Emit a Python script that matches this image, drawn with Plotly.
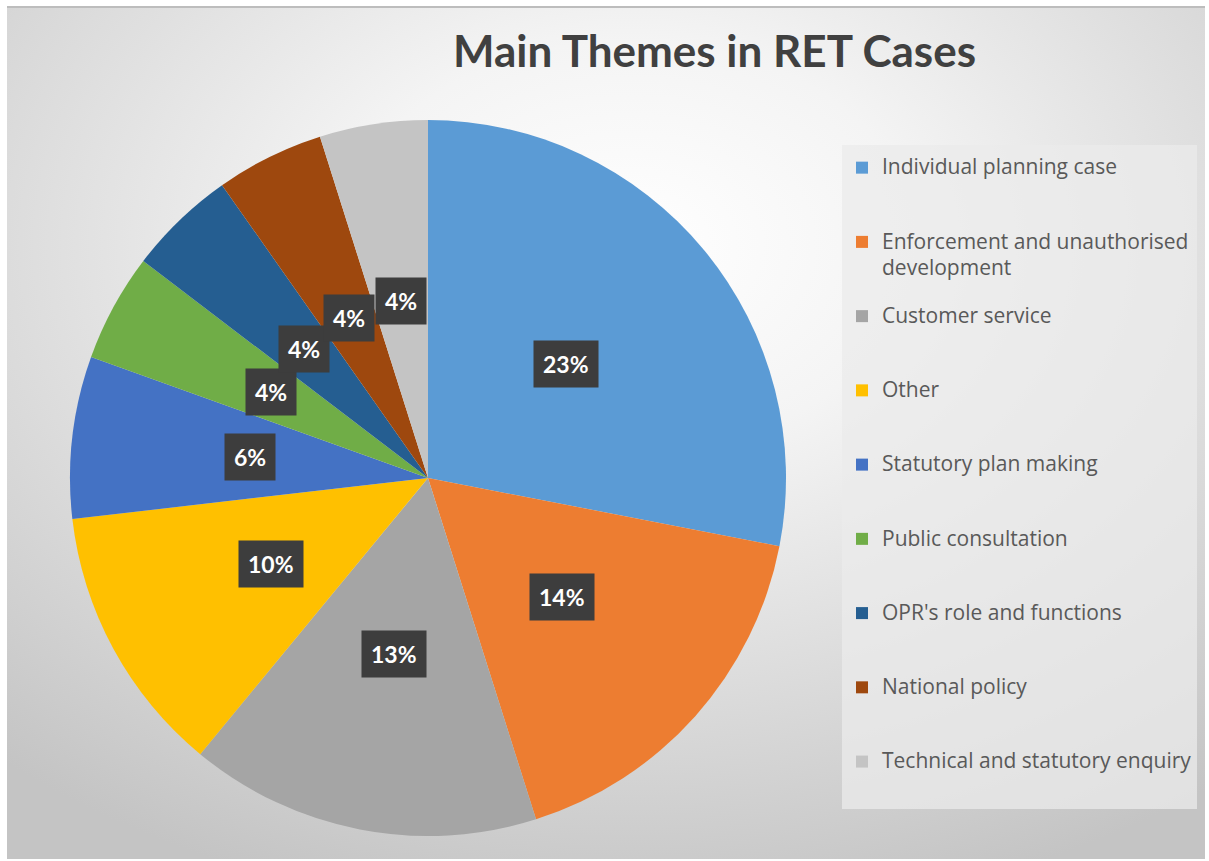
import base64
import math
import plotly.graph_objects as go

# ---- data ----
categories = [
    "Individual planning case",
    "Enforcement and unauthorised<br>development",
    "Customer service",
    "Other",
    "Statutory plan making",
    "Public consultation",
    "OPR's role and functions",
    "National policy",
    "Technical and statutory enquiry",
]
values = [23, 14, 13, 10, 6, 4, 4, 4, 4]
value_labels = ["23%", "14%", "13%", "10%", "6%", "4%", "4%", "4%", "4%"]
colors = ["#5B9BD5", "#ED7D31", "#A5A5A5", "#FFC000", "#4472C4",
          "#70AD47", "#255E91", "#9E480E", "#C4C4C4"]

W, H = 1209, 861
# pie placement (pixels)
cx_px, cy_px, R_px = 428, 478, 358
dom_x = [(cx_px - R_px) / W, (cx_px + R_px) / W]
dom_y = [1 - (cy_px + R_px) / H, 1 - (cy_px - R_px) / H]

# legend labels: small base font sets the line pitch, visible text is a larger span
BASE_FS = 6.85         # line pitch = 1.3 * BASE_FS
LINES_PER_ENTRY = 8    # entry pitch ~ 74 px
LINES_LAST_ENTRY = 5   # less bottom padding after the last entry
LINES_PER_TEXTLINE = 3 # ~27 px between wrapped lines
SPAN_STYLE = "font-size:21px;baseline-shift:-4px"
legend_names = []
for k, c in enumerate(categories):
    parts = c.split("<br>")
    pieces = []
    used = 0
    for i, ln in enumerate(parts):
        if i > 0:
            pieces.append("<br> " * (LINES_PER_TEXTLINE - 1) + "<br>")
            used += LINES_PER_TEXTLINE
        pieces.append('<span style="' + SPAN_STYLE + '">' + ln + "</span>")
    used += 1
    n_total = LINES_LAST_ENTRY if k == len(categories) - 1 else LINES_PER_ENTRY
    pieces.append("<br> " * (n_total - used))
    legend_names.append("".join(pieces))

fig = go.Figure()
fig.add_trace(go.Pie(
    labels=legend_names,
    values=values,
    sort=False,
    direction="clockwise",
    rotation=0,
    marker=dict(colors=colors, line=dict(width=0)),
    textinfo="none",
    hovertext=[c.replace("<br>", " ") for c in categories],
    hoverinfo="text",
    domain=dict(x=dom_x, y=dom_y),
))

# data labels as dark boxes at half radius on each slice's mid-angle
total = sum(values)
cum = 0
annotations = []
for v, lab in zip(values, value_labels):
    frac = (cum + v / 2) / total
    cum += v
    th = 2 * math.pi * frac
    x_px = cx_px + 0.5 * R_px * math.sin(th)
    y_px = cy_px - 0.5 * R_px * math.cos(th)
    annotations.append(dict(
        x=x_px / W, y=1 - y_px / H, xref="paper", yref="paper",
        xanchor="center", yanchor="middle",
        text="<b>" + lab + "</b>", showarrow=False,
        font=dict(family="Lato, Open Sans, sans-serif", size=23, color="white"),
        bgcolor="#3d3d3d", borderpad=9,
    ))

annotations.append(dict(
    x=714 / W, y=1 - 50 / H, xref="paper", yref="paper",
    xanchor="center", yanchor="middle",
    text="<b>Main Themes in RET Cases</b>", showarrow=False,
    font=dict(family="Lato, Open Sans, sans-serif", size=44, color="#404040"),
))

svg = (
    '<svg xmlns="http://www.w3.org/2000/svg" width="1200" height="850" preserveAspectRatio="none">'
    '<defs><radialGradient id="g" cx="52%" cy="28%" r="80%">'
    '<stop offset="0" stop-color="#ffffff"/>'
    '<stop offset="0.3" stop-color="#f4f4f4"/>'
    '<stop offset="1" stop-color="#c4c4c4"/>'
    '</radialGradient></defs>'
    '<rect width="1200" height="850" fill="url(#g)"/></svg>'
)
svg_uri = "data:image/svg+xml;base64," + base64.b64encode(svg.encode()).decode()

fig.update_layout(
    width=W, height=H,
    margin=dict(l=0, r=0, t=0, b=0),
    paper_bgcolor="white",
    showlegend=True,
    legend=dict(
        x=842 / W, y=1 - 145 / H, xanchor="left", yanchor="top",
        bgcolor="rgba(235,235,235,0.75)",
        font=dict(family="Open Sans, sans-serif", size=BASE_FS, color="#595959"),
        title=dict(text=" ", font=dict(size=9)),
        valign="top",
        itemwidth=30,
        traceorder="normal",
    ),
    annotations=annotations,
    images=[dict(
        source=svg_uri, xref="paper", yref="paper",
        x=7 / W, y=1 - 7 / H, sizex=(1205 - 7) / W, sizey=(859 - 7) / H,
        xanchor="left", yanchor="top", sizing="stretch", layer="below",
    )],
    shapes=[dict(
        type="line", xref="paper", yref="paper",
        x0=7 / W, x1=1205 / W, y0=1 - 7 / H, y1=1 - 7 / H,
        line=dict(color="#bdbdbd", width=2),
    )],
)

fig.write_html("out.html", config={"displayModeBar": False},
               post_script="document.body.style.margin='0';")
